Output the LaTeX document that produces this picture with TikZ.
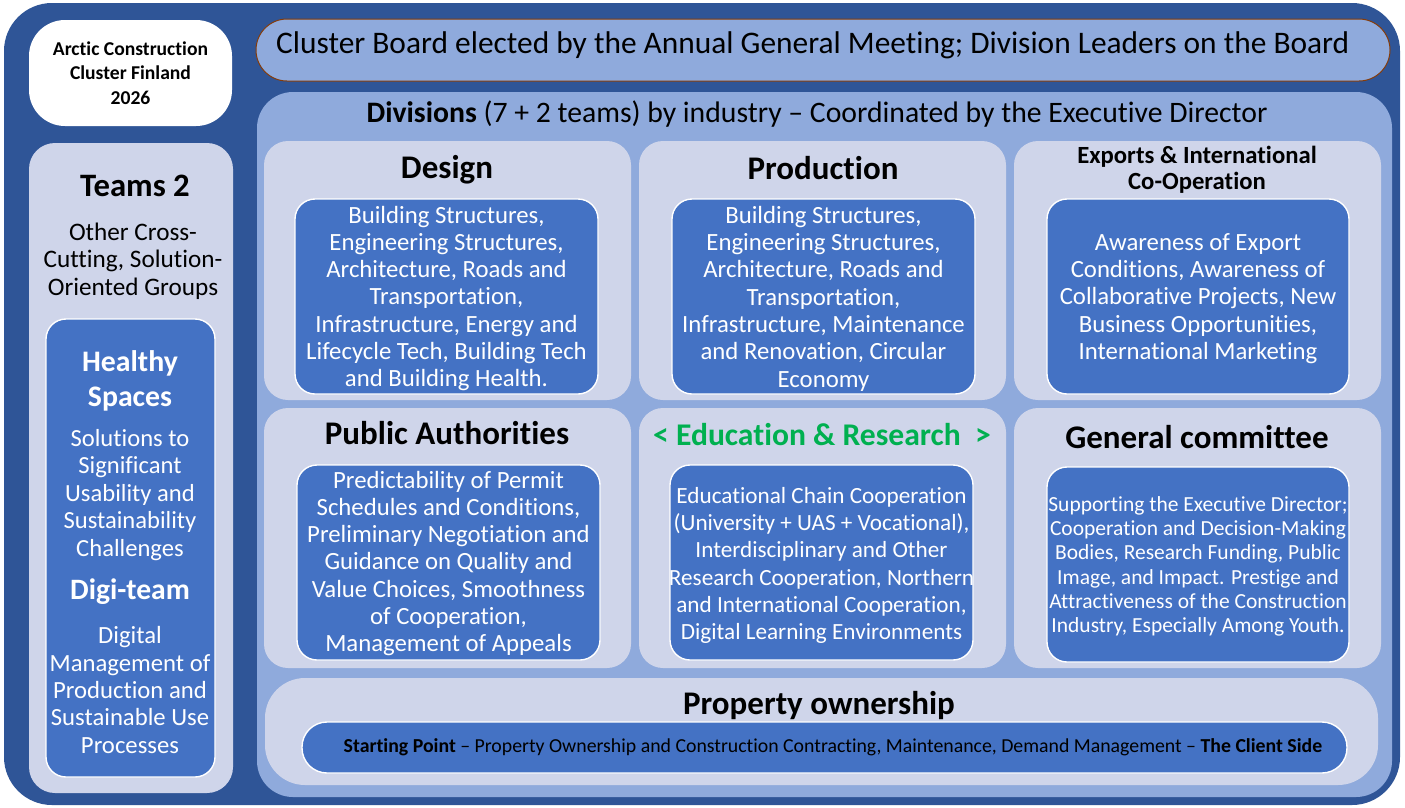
\documentclass[tikz,border=0pt]{standalone}
\usepackage{fontspec}
\setmainfont[Ligatures={NoCommon,NoContextual}]{Carlito}
\definecolor{cdark}{HTML}{2F5597}
\definecolor{cmid}{HTML}{8FAADC}
\definecolor{clight}{HTML}{CFD5EA}
\definecolor{cinner}{HTML}{4472C4}
\definecolor{cgreen}{HTML}{00B050}
\definecolor{cbrown}{HTML}{843C0C}
\tikzset{
  rbox/.style={anchor=north west, inner sep=0pt, outer sep=0pt, rounded corners=#1},
  cell/.style={rbox=24, fill=clight, minimum width=367, minimum height=259},
  ibox/.style={rbox=20, fill=cinner, draw=white, line width=1.4pt, minimum width=303, minimum height=195},
  itxt/.style={align=center, text=white, inner sep=0pt, font=\fontsize{24.75}{27.3}\selectfont},
  ttl/.style={align=center, inner sep=0pt, font=\bfseries\fontsize{33}{38}\selectfont},
}
\begin{document}
\begin{tikzpicture}[x=1pt, y=-1pt]
\useasboundingbox (0,0) rectangle (1405,807);
\fill[white] (0,0) rectangle (1405,807);
% outer frame
\node[rbox=48, fill=cdark, minimum width=1396, minimum height=802] (frame) at (4,3) {};
% title box
\node[rbox=36, fill=white, minimum width=203, minimum height=106] (logo) at (29,20) {};
\node[align=center, inner sep=0pt, font=\bfseries\fontsize{19.6}{24.5}\selectfont] (logot) at (130.5,73) {Arctic Construction\\Cluster Finland\\2026};
% board
\node[rbox=31, fill=cmid, draw=cbrown, line width=1pt, minimum width=1134, minimum height=62] (board) at (256,19) {};
\node[inner sep=0pt, anchor=west, font=\fontsize{31.4}{36}\selectfont] (boardt) at (276,45) {Cluster Board elected by the Annual General Meeting; Division Leaders on the Board};
% divisions
\node[rbox=36, fill=cmid, minimum width=1135, minimum height=705] (div) at (257,92) {};
\node[inner sep=0pt, font=\fontsize{29.7}{34}\selectfont] (divt) at (817,114) {\textbf{Divisions} (7 + 2 teams) by industry -- Coordinated by the Executive Director};
% teams column
\node[rbox=26, fill=clight, minimum width=204, minimum height=650] (teams) at (29,143) {};
\node[ttl, font=\bfseries\fontsize{32.7}{38}\selectfont] (teamst) at (135,186) {Teams 2};
\node[align=center, inner sep=0pt, font=\fontsize{25.2}{27.3}\selectfont] (teamss) at (133,261) {Other Cross-\\Cutting, Solution-\\Oriented Groups};
\node[rbox=20, fill=cinner, draw=white, line width=1.4pt, minimum width=169, minimum height=458] (hs) at (46,319) {};
\node[align=center, text=white, inner sep=0pt, font=\bfseries\fontsize{29.8}{35}\selectfont] (hst) at (130,381) {Healthy\\Spaces};
\node[itxt, font=\fontsize{24.6}{27.5}\selectfont] (hss) at (130,495) {Solutions to\\Significant\\Usability and\\Sustainability\\Challenges};
\node[align=center, text=white, inner sep=0pt, font=\bfseries\fontsize{29.6}{34}\selectfont] (dgt) at (130,592) {Digi-team};
\node[itxt, font=\fontsize{24.7}{27.3}\selectfont] (dgs) at (130,690) {Digital\\Management of\\Production and\\Sustainable Use\\Processes};
% row 1
\node[cell] (c1) at (264,141) {};
\node[cell] (c2) at (639,141) {};
\node[cell] (c3) at (1014,141) {};
\node[ttl] (c1t) at (447,170) {Design};
\node[ttl] (c2t) at (823,168) {Production};
\node[ttl, font=\bfseries\fontsize{24.7}{26.5}\selectfont] (c3t) at (1197,170) {Exports \& International\\Co-Operation};
\node[ibox] (i1) at (295,199) {};
\node[ibox] (i2) at (672,199) {};
\node[ibox, minimum width=302] (i3) at (1047,199) {};
\node[itxt] (i1t) at ([yshift=-2]i1.center) {Building Structures,\\Engineering Structures,\\Architecture, Roads and\\Transportation,\\Infrastructure, Energy and\\Lifecycle Tech, Building Tech\\and Building Health.};
\node[itxt] (i2t) at ([yshift=-2]i2.center) {Building Structures,\\Engineering Structures,\\Architecture, Roads and\\Transportation,\\Infrastructure, Maintenance\\and Renovation, Circular\\Economy};
\node[itxt] (i3t) at ([yshift=-2]i3.center) {Awareness of Export\\Conditions, Awareness of\\Collaborative Projects, New\\Business Opportunities,\\International Marketing};
% row 2
\node[cell, minimum height=260] (c4) at (264,408) {};
\node[cell, minimum height=260] (c5) at (639,408) {};
\node[cell, minimum height=260] (c6) at (1014,408) {};
\node[ttl] (c4t) at (447,433) {Public Authorities};
\node[ttl, text=cgreen, font=\bfseries\fontsize{31.6}{36}\selectfont] (c5t) at (822,435) {< Education \& Research\ \ >};
\node[ttl] (c6t) at (1197,437) {General committee};
\node[ibox] (i4) at (297,465) {};
\node[ibox] (i5) at (670,465) {};
\node[ibox, minimum width=302] (i6) at (1047,467) {};
\node[itxt] (i4t) at ([yshift=-1]i4.center) {Predictability of Permit\\Schedules and Conditions,\\Preliminary Negotiation and\\Guidance on Quality and\\Value Choices, Smoothness\\of Cooperation,\\Management of Appeals};
\node[itxt, font=\fontsize{23.2}{27.3}\selectfont] (i5t) at ([yshift=-3]i5.center) {Educational Chain Cooperation\\(University + UAS + Vocational),\\Interdisciplinary and Other\\Research Cooperation, Northern\\and International Cooperation,\\Digital Learning Environments};
\node[itxt, font=\fontsize{21.5}{24.3}\selectfont] (i6t) at ([yshift=-2]i6.center) {Supporting the Executive Director;\\Cooperation and Decision-Making\\Bodies, Research Funding, Public\\Image, and Impact. Prestige and\\Attractiveness of the Construction\\Industry, Especially Among Youth.};
% property
\node[rbox=40, fill=clight, minimum width=1113, minimum height=107] (prop) at (265,678) {};
\node[ttl] (propt) at (819,706) {Property ownership};
\node[rbox=25, fill=cinner, draw=white, line width=1.4pt, minimum width=1045, minimum height=51] (pi) at (302,722) {};
\node[inner sep=0pt, font=\fontsize{19.8}{22}\selectfont] (pit) at (833,747) {\textbf{Starting Point} -- Property Ownership and Construction Contracting, Maintenance, Demand Management -- \textbf{The Client Side}};
\end{tikzpicture}
\end{document}
